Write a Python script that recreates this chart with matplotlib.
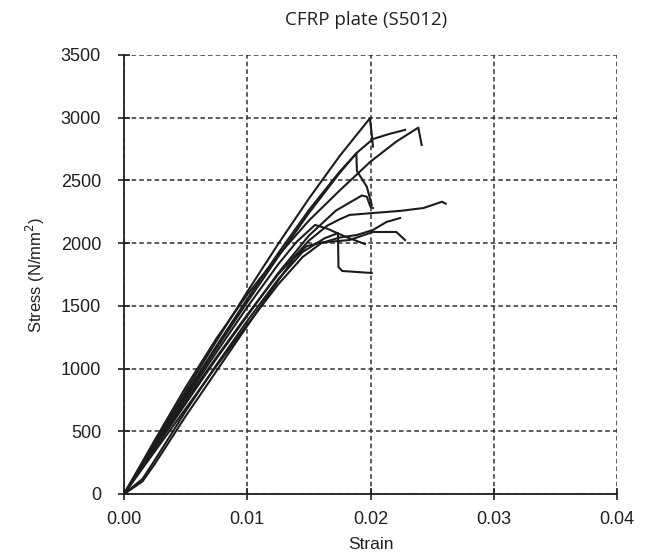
import numpy as np
import matplotlib
matplotlib.use('Agg')
import matplotlib.pyplot as plt
from matplotlib import ticker as mticker

# stress-strain curves, one pair per specimen
s1_strain = [0, 0.0025, 0.005, 0.0075, 0.01, 0.0125, 0.015, 0.0175, 0.01995, 0.0201, 0.0202]
s1_stress = [0, 412, 820, 1220, 1612, 1992, 2355, 2695, 2995, 2870, 2770]

s2_strain = [0, 0.0025, 0.005, 0.0075, 0.01, 0.0125, 0.015, 0.0175, 0.019, 0.0202, 0.0215, 0.0228]
s2_stress = [0, 400, 795, 1180, 1555, 1918, 2263, 2570, 2730, 2830, 2870, 2903]

s3_strain = [0, 0.0025, 0.005, 0.0075, 0.01, 0.0125, 0.015, 0.0175, 0.02, 0.0221, 0.02388, 0.02415]
s3_stress = [0, 430, 850, 1240, 1590, 1900, 2180, 2420, 2650, 2810, 2921, 2783]

s4_strain = [0, 0.0025, 0.005, 0.0075, 0.01, 0.0125, 0.015, 0.0175, 0.01885, 0.0189, 0.0197, 0.0201]
s4_stress = [0, 390, 780, 1160, 1530, 1890, 2240, 2560, 2717, 2575, 2450, 2305]

s5_strain = [0, 0.0025, 0.005, 0.0075, 0.01, 0.0125, 0.015, 0.0172, 0.0193, 0.0197, 0.0200, 0.0202]
s5_stress = [0, 360, 720, 1080, 1420, 1760, 2060, 2260, 2380, 2370, 2290, 2280]

s6_strain = [0, 0.0025, 0.005, 0.0075, 0.01, 0.0125, 0.015, 0.0165, 0.0175, 0.0183, 0.0202,
             0.0225, 0.0243, 0.0258, 0.0261]
s6_stress = [0, 370, 740, 1090, 1430, 1750, 2020, 2140, 2190, 2225, 2240,
             2258, 2280, 2330, 2315]

s7_strain = [0, 0.0025, 0.005, 0.0075, 0.01, 0.0125, 0.0145, 0.016, 0.0175, 0.0189, 0.0202,
             0.0213, 0.0224]
s7_stress = [0, 340, 680, 1020, 1350, 1670, 1890, 2000, 2045, 2065, 2105, 2169, 2200]

s8_strain = [0, 0.0015, 0.0025, 0.005, 0.0075, 0.01, 0.0125, 0.0138, 0.0148, 0.016, 0.0183,
             0.0202, 0.0221, 0.0228]
s8_stress = [0, 100, 240, 620, 980, 1340, 1700, 1880, 1975, 2005, 2025, 2089, 2089, 2025]

s9_strain = [0, 0.0025, 0.005, 0.0075, 0.01, 0.0125, 0.014, 0.0155, 0.0165, 0.018, 0.01955]
s9_stress = [0, 380, 760, 1130, 1490, 1830, 2010, 2145, 2115, 2050, 1993]

s10_strain = [0, 0.0015, 0.0025, 0.005, 0.0075, 0.01, 0.0125, 0.0145, 0.0163, 0.01736, 0.0174,
              0.0177, 0.0201]
s10_stress = [0, 120, 270, 660, 1030, 1380, 1710, 1930, 2040, 2080, 1810, 1778, 1762]

curves = [(s1_strain, s1_stress), (s2_strain, s2_stress), (s3_strain, s3_stress),
          (s4_strain, s4_stress), (s5_strain, s5_stress), (s6_strain, s6_stress),
          (s7_strain, s7_stress), (s8_strain, s8_stress), (s9_strain, s9_stress),
          (s10_strain, s10_stress)]

x_ticks = [0.00, 0.01, 0.02, 0.03, 0.04]
y_ticks = [0, 500, 1000, 1500, 2000, 2500, 3000, 3500]

plt.rcParams['font.family'] = ['Liberation Sans', 'DejaVu Sans']

fig = plt.figure(figsize=(6.57, 5.59), dpi=100)
ax = fig.add_axes([124/657, 1-494/559, 493/657, 439/559])

for strain, stress in curves:
    ax.plot(strain, stress, color='#1c1c1c', lw=1.5, solid_joinstyle='round')

ax.set_xlim(0, 0.04)
ax.set_ylim(0, 3500)
ax.set_xticks(x_ticks)
ax.set_yticks(y_ticks)
ax.xaxis.set_major_formatter(mticker.FormatStrFormatter('%.2f'))

ax.grid(True, color='#303030', linestyle=(0, (3, 2)), linewidth=1.1)
ax.set_axisbelow(True)
for side in ['top', 'right']:
    ax.spines[side].set_visible(False)
for side in ['left', 'bottom']:
    ax.spines[side].set_linewidth(1.3)
    ax.spines[side].set_color('#202020')

ax.tick_params(axis='both', direction='inout', length=9, width=1.2, color='#202020',
               labelsize=13, labelcolor='#202020')
ax.tick_params(axis='y', pad=12)
ax.tick_params(axis='x', pad=8)

ax.set_xlabel('Strain', fontsize=12.5, color='#202020', labelpad=6)
ax.set_ylabel('Stress (N/mm$^2$)', fontsize=12, color='#202020', labelpad=10)

fig.text(0.558, 0.964, 'CFRP plate (S5012)', family='Open Sans', fontsize=13.5,
         ha='center', va='center', color='#202020')

fig.savefig('out.png', dpi=100)
